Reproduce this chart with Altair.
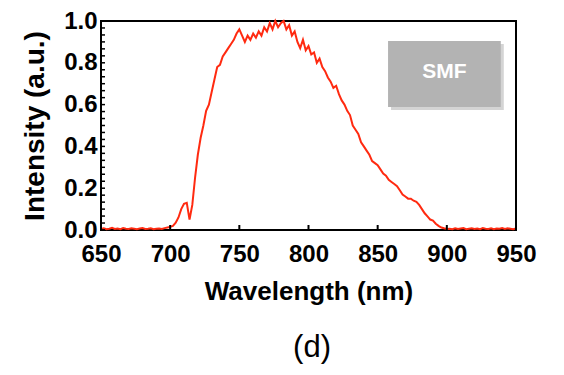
import altair as alt
import pandas as pd

wavelength = list(range(650, 952, 2))
intensity = [
    0.005, 0.008, 0.004, 0.006, 0.010, 0.005, 0.007, 0.004, 0.009, 0.006,
    0.005, 0.008, 0.006, 0.004, 0.007, 0.009, 0.005, 0.006, 0.008, 0.004,
    0.006, 0.007, 0.005, 0.009, 0.012,
    0.015, 0.020, 0.035, 0.060, 0.100, 0.125, 0.130, 0.050, 0.120, 0.250,
    0.360, 0.440, 0.500, 0.570, 0.600, 0.660, 0.720, 0.780, 0.790, 0.830,
    0.850, 0.870, 0.890, 0.910, 0.940, 0.960, 0.930, 0.900, 0.930, 0.910,
    0.940, 0.920, 0.950, 0.930, 0.970, 0.950, 0.990, 0.960, 1.000, 0.970,
    0.990, 1.000, 0.960, 0.980, 0.930, 0.950, 0.900, 0.870, 0.910, 0.860,
    0.880, 0.840, 0.850, 0.800, 0.820, 0.780, 0.760, 0.730, 0.710, 0.680,
    0.690, 0.650, 0.620, 0.600, 0.570, 0.550, 0.500, 0.480, 0.460, 0.420,
    0.400, 0.380, 0.360, 0.330, 0.320, 0.310, 0.290, 0.270, 0.260, 0.240,
    0.230, 0.220, 0.210, 0.190, 0.170, 0.160, 0.150, 0.150, 0.140, 0.135,
    0.120, 0.100, 0.080, 0.065, 0.050, 0.045, 0.030, 0.020, 0.012, 0.008,
    0.005,
    0.006, 0.004, 0.008, 0.005, 0.007, 0.009, 0.004, 0.006, 0.008, 0.005,
    0.007, 0.004, 0.009, 0.006, 0.005, 0.008, 0.004, 0.007, 0.006, 0.009,
    0.005, 0.008, 0.006, 0.004, 0.007,
]

x_ticks = [650, 700, 750, 800, 850, 900, 950]
y_ticks = [0.0, 0.2, 0.4, 0.6, 0.8, 1.0]
y_minor = [round(k / 30, 4) for k in range(0, 31)]

box_label = ["SMF"]
box_x = [857.5, 939.0]
box_y = [0.589, 0.904]

df = pd.DataFrame({"wavelength": wavelength[:len(intensity)], "intensity": intensity})

FONT = "Liberation Sans"

xscale = alt.Scale(domain=[650, 950], nice=False, zero=False)
yscale = alt.Scale(domain=[0, 1], nice=False)

xaxis = alt.Axis(values=x_ticks, title="Wavelength (nm)", tickSize=0,
                 labelFont=FONT, labelFontSize=24, labelFontWeight="bold",
                 labelColor="black", labelPadding=12, titleFont=FONT, titleFontSize=26,
                 titleFontWeight="bold", titleColor="black", titlePadding=12,
                 domain=False, grid=False, labelFlush=False)
yaxis = alt.Axis(values=y_ticks, title="Intensity (a.u.)", tickSize=0,
                 format=".1f", labelFont=FONT, labelFontSize=24,
                 labelFontWeight="bold", labelColor="black", labelPadding=4,
                 titleFont=FONT, titleFontSize=28,
                 titleFontWeight="bold", titleColor="black", titlePadding=14,
                 domain=False, grid=False, labelFlush=False)

line = alt.Chart(df).mark_line(color="#ff2a10", strokeWidth=2).encode(
    x=alt.X("wavelength:Q", scale=xscale, axis=xaxis),
    y=alt.Y("intensity:Q", scale=yscale, axis=yaxis),
)

minor_df = pd.DataFrame({"intensity": y_minor})
minor = alt.Chart(minor_df).mark_rule(color="black", strokeWidth=1.5).encode(
    y=alt.Y("intensity:Q", scale=yscale, axis=yaxis),
    x=alt.value(0), x2=alt.value(4),
)

xt_df = pd.DataFrame({"wavelength": x_ticks})
xt = alt.Chart(xt_df).mark_rule(color="black", strokeWidth=2).encode(
    x=alt.X("wavelength:Q", scale=xscale, axis=xaxis),
    y=alt.value(204), y2=alt.value(209),
)

box_df = pd.DataFrame({"wavelength": [box_x[0]], "w2": [box_x[1]],
                       "intensity": [box_y[0]], "i2": [box_y[1]]})
shadow = alt.Chart(box_df).mark_rect(color="#d4d4d4", xOffset=3, x2Offset=3,
                                     yOffset=3, y2Offset=3).encode(
    x=alt.X("wavelength:Q", scale=xscale, axis=xaxis), x2="w2:Q",
    y=alt.Y("intensity:Q", scale=yscale, axis=yaxis), y2="i2:Q",
)
box = alt.Chart(box_df).mark_rect(color="#b3b3b3").encode(
    x=alt.X("wavelength:Q", scale=xscale, axis=xaxis), x2="w2:Q",
    y=alt.Y("intensity:Q", scale=yscale, axis=yaxis), y2="i2:Q",
)
label_df = pd.DataFrame({"wavelength": [(box_x[0] + box_x[1]) / 2],
                         "intensity": [(box_y[0] + box_y[1]) / 2], "t": box_label})
label = alt.Chart(label_df).mark_text(color="white", font=FONT, fontSize=21,
                                      fontWeight="bold", dy=-2).encode(
    x=alt.X("wavelength:Q", scale=xscale, axis=xaxis),
    y=alt.Y("intensity:Q", scale=yscale, axis=yaxis), text="t:N",
)

caption = alt.Chart(pd.DataFrame({"t": ["(d)"]})).mark_text(
    font=FONT, fontSize=31, color="black", baseline="middle"
).encode(x=alt.value(211), y=alt.value(327), text="t:N")

chart = alt.layer(shadow, box, label, line, minor, xt, caption).properties(
    width=415, height=209,
    padding={"left": 101, "top": 21, "right": 48, "bottom": 145},
    autosize=alt.AutoSizeParams(type="none"),
).configure(background="white").configure_view(stroke="black", strokeWidth=2)

chart.save("out.html", embed_options={"renderer": "svg", "actions": False})
